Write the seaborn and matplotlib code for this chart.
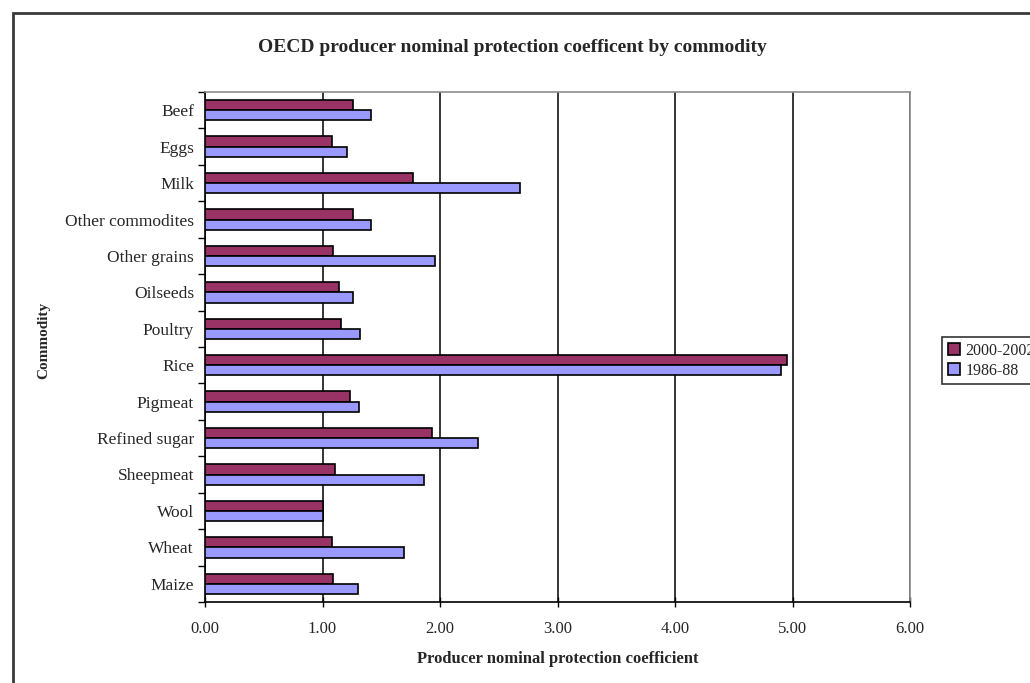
import matplotlib
matplotlib.use("Agg")
import matplotlib.pyplot as plt
import seaborn as sns
import pandas as pd
from matplotlib.patches import Rectangle
from matplotlib.ticker import FixedLocator

commodities = ["Beef", "Eggs", "Milk", "Other commodites", "Other grains", "Oilseeds",
               "Poultry", "Rice", "Pigmeat", "Refined sugar", "Sheepmeat", "Wool",
               "Wheat", "Maize"]
npc_2000_2002 = [1.26, 1.08, 1.77, 1.26, 1.09, 1.14, 1.16, 4.95, 1.23, 1.93, 1.11, 1.00, 1.08, 1.09]
npc_1986_88 = [1.41, 1.21, 2.68, 1.41, 1.96, 1.26, 1.32, 4.90, 1.31, 2.32, 1.86, 1.00, 1.69, 1.30]
periods = ["2000-2002", "1986-88"]
x_ticks = [0, 1, 2, 3, 4, 5, 6]

df = pd.DataFrame({
    "Commodity": commodities * 2,
    "Value": npc_2000_2002 + npc_1986_88,
    "Period": [periods[0]] * len(commodities) + [periods[1]] * len(commodities),
})

sns.set_style("white")
plt.rcParams["font.family"] = ["Liberation Serif", "DejaVu Serif"]

fig = plt.figure(figsize=(10.30, 6.83), dpi=100)
ax = fig.add_axes([205 / 1030, 1 - 602 / 683, (910 - 205) / 1030, (602 - 92) / 683])

sns.barplot(data=df, y="Commodity", x="Value", hue="Period", hue_order=periods,
            order=commodities, orient="h", palette=["#993366", "#9999FF"],
            edgecolor="black", linewidth=1.2, width=0.56, saturation=1,
            legend=True, ax=ax, zorder=3)

ax.set_xlim(0, 6)
ax.set_ylim(len(commodities) - 0.5, -0.5)
ax.set_xticks(x_ticks)
ax.set_xticklabels([f"{v:.2f}" for v in x_ticks], fontsize=12)
ax.grid(axis="x", color="black", linewidth=1.1, zorder=0)
ax.grid(axis="y", visible=False)

ax.yaxis.set_minor_locator(FixedLocator([i - 0.5 for i in range(len(commodities) + 1)]))
ax.tick_params(axis="y", which="major", length=0, pad=8, labelsize=12.5)
ax.tick_params(axis="y", which="minor", length=5, width=1, direction="out", color="black", left=True)
ax.tick_params(axis="x", which="major", length=7, width=1, direction="inout", color="black",
               bottom=True, pad=10)

for s in ["top", "right"]:
    ax.spines[s].set_color("#8c8c8c")
    ax.spines[s].set_linewidth(1.2)
for s in ["left", "bottom"]:
    ax.spines[s].set_color("black")
    ax.spines[s].set_linewidth(1.2)

ax.set_xlabel("Producer nominal protection coefficient", fontsize=12, fontweight="bold", labelpad=10)
ax.set_ylabel("Commodity", fontsize=11, fontweight="bold", labelpad=0)
ax.yaxis.set_label_coords(-0.22, 0.512)

fig.text(0.497, 1 - 47 / 683, "OECD producer nominal protection coefficent by commodity",
         ha="center", va="center", fontsize=14, fontweight="bold")

handles, labels = ax.get_legend_handles_labels()
ax.get_legend().remove()
leg = fig.legend(handles, labels, loc="upper left", bbox_to_anchor=(942 / 1030, 1 - 337 / 683),
                 frameon=True, fancybox=False, edgecolor="black", fontsize=11.5,
                 handlelength=0.8, handleheight=0.8, handletextpad=0.3,
                 borderpad=0.35, labelspacing=0.25, borderaxespad=0)
leg.get_frame().set_linewidth(1.2)

fig.patches.append(Rectangle((13 / 1030, -0.1), 1.2, 1.1 - 13 / 683, transform=fig.transFigure,
                             fill=False, edgecolor="#3a3a3a", linewidth=2, zorder=0))

fig.savefig("out.png", dpi=100)
